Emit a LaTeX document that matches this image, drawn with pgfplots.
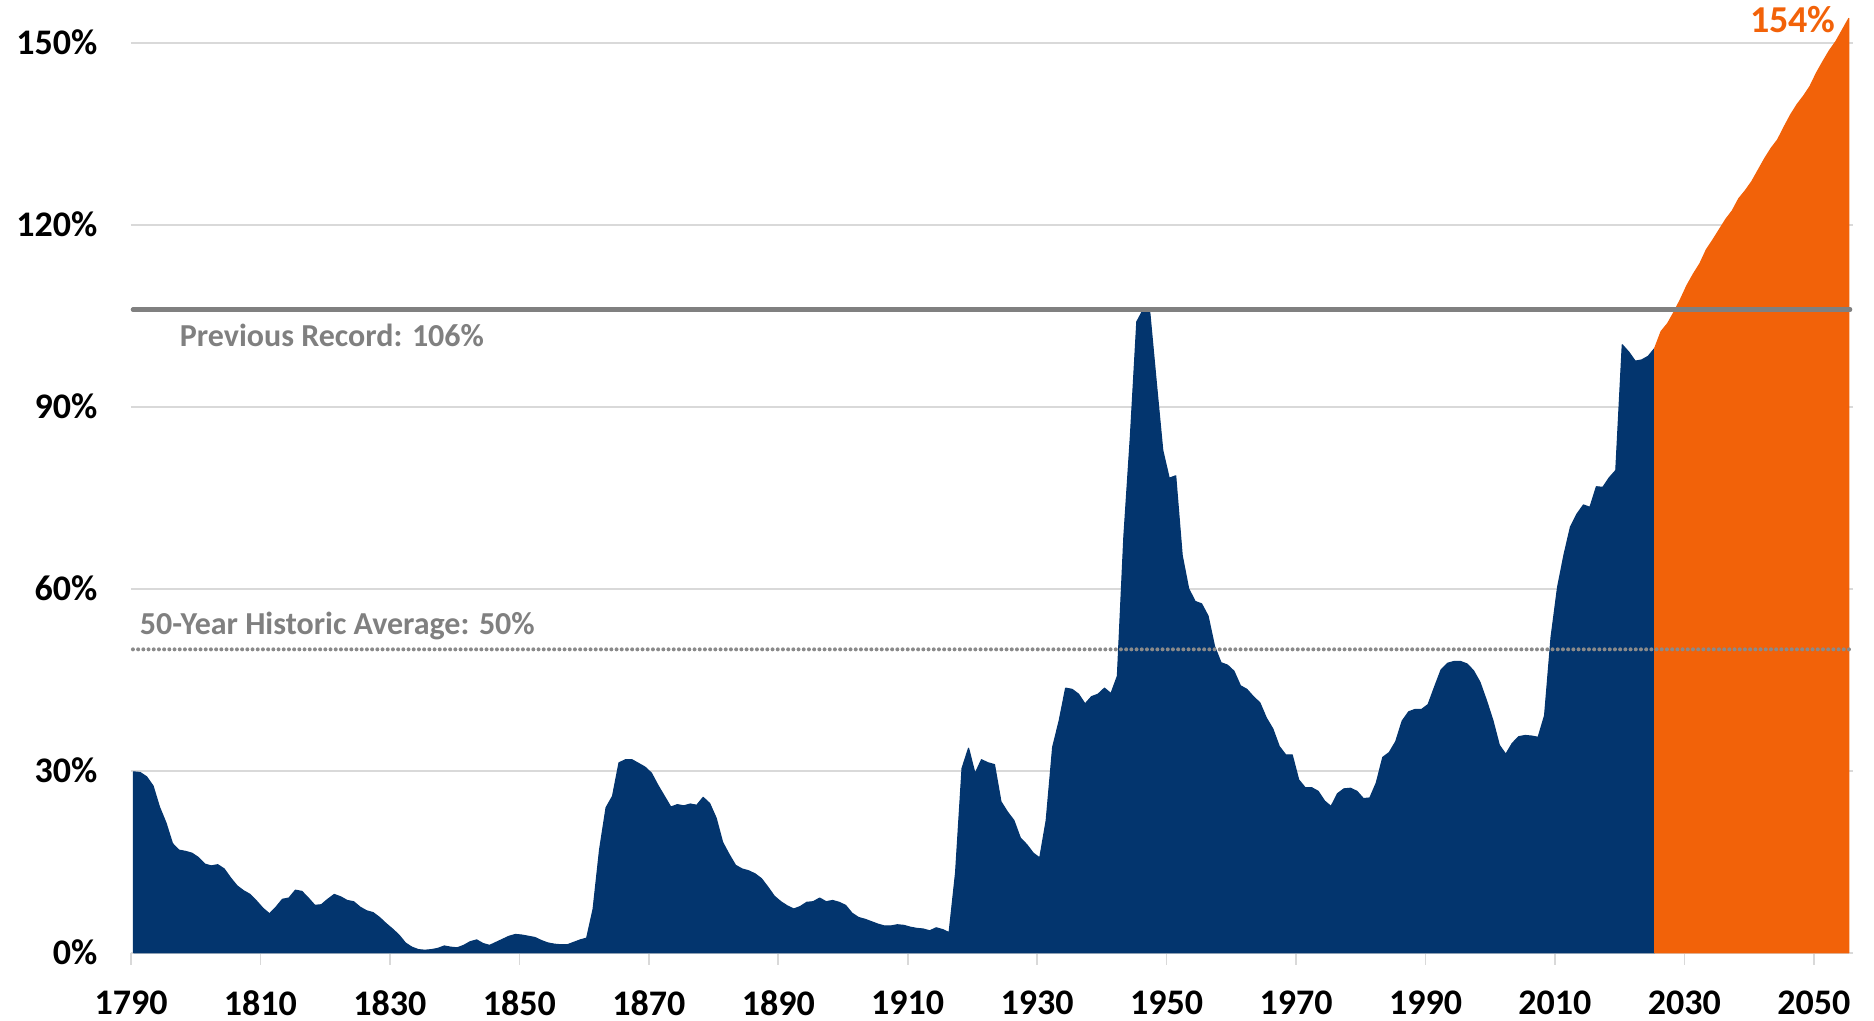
\documentclass[border=0pt]{standalone}
\usepackage{fontspec}
\setmainfont{Carlito}
\usepackage{pgfplots}
\pgfplotsset{compat=1.18}
\usepackage{pgfplotstable}
\definecolor{navy}{HTML}{03356E}
\definecolor{orng}{HTML}{F26209}
\definecolor{refgray}{HTML}{808080}
\definecolor{dotgray}{HTML}{8A8A8A}
\definecolor{gridgray}{HTML}{D9D9D9}

\pgfplotstableread{
year val
1790 29.8
1791 29.7
1792 29.0
1793 27.5
1794 24.0
1795 21.4
1796 18.0
1797 16.9
1798 16.7
1799 16.4
1800 15.7
1801 14.6
1802 14.3
1803 14.5
1804 13.8
1805 12.3
1806 11.0
1807 10.2
1808 9.6
1809 8.5
1810 7.3
1811 6.4
1812 7.5
1813 8.8
1814 9.0
1815 10.3
1816 10.1
1817 9.0
1818 7.8
1819 7.9
1820 8.8
1821 9.6
1822 9.2
1823 8.6
1824 8.4
1825 7.5
1826 6.9
1827 6.6
1828 5.8
1829 4.8
1830 3.9
1831 2.9
1832 1.6
1833 0.9
1834 0.5
1835 0.4
1836 0.5
1837 0.7
1838 1.1
1839 0.9
1840 0.8
1841 1.2
1842 1.8
1843 2.1
1844 1.5
1845 1.2
1846 1.7
1847 2.2
1848 2.7
1849 3.0
1850 2.9
1851 2.7
1852 2.5
1853 2.0
1854 1.6
1855 1.4
1856 1.3
1857 1.3
1858 1.7
1859 2.1
1860 2.4
1861 7.2
1862 17.0
1863 23.9
1864 25.8
1865 31.3
1866 31.8
1867 31.8
1868 31.2
1869 30.6
1870 29.6
1871 27.6
1872 25.8
1873 24.0
1874 24.4
1875 24.2
1876 24.5
1877 24.3
1878 25.6
1879 24.6
1880 22.2
1881 18.2
1882 16.2
1883 14.4
1884 13.8
1885 13.5
1886 13.0
1887 12.2
1888 10.8
1889 9.3
1890 8.4
1891 7.7
1892 7.2
1893 7.6
1894 8.3
1895 8.4
1896 9.0
1897 8.4
1898 8.6
1899 8.3
1900 7.8
1901 6.5
1902 5.8
1903 5.5
1904 5.1
1905 4.7
1906 4.4
1907 4.4
1908 4.6
1909 4.5
1910 4.2
1911 4.0
1912 3.9
1913 3.6
1914 4.1
1915 3.8
1916 3.3
1917 13.2
1918 30.4
1919 33.7
1920 29.5
1921 31.8
1922 31.3
1923 31.0
1924 24.9
1925 23.2
1926 21.8
1927 18.9
1928 17.8
1929 16.4
1930 15.6
1931 21.8
1932 33.9
1933 38.2
1934 43.6
1935 43.4
1936 42.6
1937 41.0
1938 42.2
1939 42.6
1940 43.6
1941 42.7
1942 45.6
1943 68.6
1944 85.0
1945 104.0
1946 106.0
1947 105.5
1948 94.0
1949 82.8
1950 78.2
1951 78.6
1952 65.5
1953 60.0
1954 57.9
1955 57.5
1956 55.5
1957 50.5
1958 47.8
1959 47.4
1960 46.4
1961 44.0
1962 43.4
1963 42.2
1964 41.2
1965 38.7
1966 36.9
1967 34.0
1968 32.6
1969 32.6
1970 28.5
1971 27.2
1972 27.2
1973 26.6
1974 25.0
1975 24.1
1976 26.2
1977 27.0
1978 27.1
1979 26.6
1980 25.4
1981 25.5
1982 28.0
1983 32.2
1984 33.0
1985 34.8
1986 38.2
1987 39.7
1988 40.1
1989 40.1
1990 40.9
1991 43.8
1992 46.6
1993 47.7
1994 48.0
1995 48.0
1996 47.6
1997 46.5
1998 44.6
1999 41.6
2000 38.3
2001 34.2
2002 32.7
2003 34.5
2004 35.6
2005 35.8
2006 35.7
2007 35.5
2008 39.1
2009 52.0
2010 60.2
2011 65.6
2012 70.2
2013 72.3
2014 73.8
2015 73.4
2016 76.8
2017 76.7
2018 78.3
2019 79.5
2020 100.2
2021 99.0
2022 97.5
2023 97.7
2024 98.3
2025 99.6
}\navydata

\pgfplotstableread{
year val
2025 99.6
2026 102.4
2027 103.7
2028 105.6
2029 107.7
2030 110.0
2031 111.9
2032 113.6
2033 115.9
2034 117.5
2035 119.2
2036 120.9
2037 122.3
2038 124.3
2039 125.6
2040 127.1
2041 129.0
2042 130.9
2043 132.6
2044 134.0
2045 136.1
2046 138.1
2047 139.8
2048 141.2
2049 142.8
2050 145.0
2051 146.9
2052 148.7
2053 150.2
2054 152.1
2055 154.0
}\orangedata

\begin{document}
\begin{tikzpicture}
\begin{axis}[
  at={(0pt,0pt)}, anchor=south west,
  scale only axis, width=860.85pt, height=455pt,
  xmin=1790, xmax=2056.0, ymin=0, ymax=150,
  clip=false,
  axis x line*=bottom, axis y line*=left,
  x axis line style={draw=gridgray, line width=1pt, -},
  y axis line style={draw=none},
  xtick={1790,1810,1830,1850,1870,1890,1910,1930,1950,1970,1990,2010,2030,2050},
  xticklabels={1790,1810,1830,1850,1870,1890,1910,1930,1950,1970,1990,2010,2030,2050},
  ytick={0,30,60,90,120,150},
  yticklabels={0\%,30\%,60\%,90\%,120\%,150\%},
  tick align=outside,
  major tick length=6pt,
  xtick style={draw=gridgray, line width=0.85pt},
  ytick style={draw=none},
  ymajorgrids,
  major grid style={draw=gridgray, line width=0.85pt},
  ticklabel style={font=\fontsize{18}{21}\selectfont\bfseries, text=black},
  xticklabel style={anchor=north, inner sep=0pt, yshift=-12.7pt},
  yticklabel style={anchor=east, inner sep=0pt, xshift=-10.6pt},
]
\addplot[draw=navy, fill=navy, line width=0.6pt, line join=round]
  table[x expr=\thisrow{year}+0.4, y=val]{\navydata} \closedcycle;
\addplot[draw=orng, fill=orng, line width=0.6pt, line join=round]
  table[x expr=\thisrow{year}+0.4, y=val]{\orangedata} \closedcycle;
\addplot[refgray, line width=2.2pt, line cap=round]
  coordinates {(1790.3,106) (2055.6,106)};
\addplot[dotgray, line width=2pt, line cap=round, dash pattern=on 0pt off 2.6pt]
  coordinates {(1790.3,50) (2055.6,50)};
\node[anchor=base west, inner sep=0pt, text=refgray, font=\fontsize{16}{19}\selectfont\bfseries]
  at (axis cs:1797.5,99.9) {Previous Record: 106\%};
\node[anchor=base west, inner sep=0pt, text=refgray, font=\fontsize{16}{19}\selectfont\bfseries]
  at (axis cs:1791.3,52.4) {50-Year Historic Average: 50\%};
\node[anchor=base east, inner sep=0pt, text=orng, font=\fontsize{19}{22}\selectfont\bfseries]
  at (axis cs:2053.4,151.7) {154\%};
\end{axis}
\pgfresetboundingbox
\useasboundingbox (-65.5pt,-34.15pt) rectangle (871.5pt,476.35pt);
\end{tikzpicture}
\end{document}
